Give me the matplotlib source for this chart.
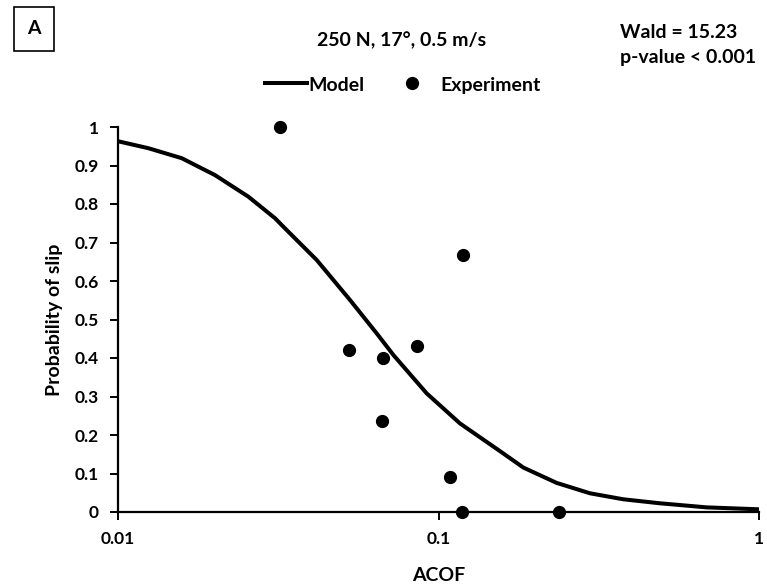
import numpy as np
import matplotlib
matplotlib.use("Agg")
import matplotlib.pyplot as plt
from matplotlib.ticker import FixedLocator, FixedFormatter, NullLocator

# experiment points
acof_exp = [0.032, 0.119, 0.0526, 0.0671, 0.0857, 0.0666, 0.1086, 0.1184, 0.2377]
slip_exp = [1.0, 0.667, 0.42, 0.40, 0.43, 0.236, 0.09, 0.0, 0.0]

# model curve, read point by point
acof_model = [0.01, 0.01243, 0.0158, 0.02008, 0.02551, 0.0309, 0.0328, 0.04169,
              0.05296, 0.06414, 0.07228, 0.09189, 0.1167, 0.1556, 0.1839,
              0.2338, 0.297, 0.3773, 0.4911, 0.687, 1.0]
slip_model = [0.963, 0.945, 0.919, 0.875, 0.819, 0.763, 0.741, 0.6545,
              0.5506, 0.464, 0.408, 0.308, 0.230, 0.158, 0.1155,
              0.0755, 0.0486, 0.033, 0.0226, 0.012, 0.007]

x_ticks = [0.01, 0.1, 1]
x_ticklabels = ["0.01", "0.1", "1"]
y_ticks = [0, 0.1, 0.2, 0.3, 0.4, 0.5, 0.6, 0.7, 0.8, 0.9, 1]
y_ticklabels = ["0", "0.1", "0.2", "0.3", "0.4", "0.5", "0.6", "0.7", "0.8", "0.9", "1"]

plt.rcParams['font.family'] = ['Lato', 'DejaVu Sans']
plt.rcParams['font.weight'] = 'bold'

W, H = 767, 588
fig = plt.figure(figsize=(W / 100, H / 100), dpi=100)
ax = fig.add_axes([118 / W, 1 - 512 / H, (759 - 118) / W, (512 - 127) / H])

ax.plot(acof_model, slip_model, color='black', lw=2.9, solid_capstyle='butt',
        solid_joinstyle='round', zorder=2)
ax.plot(acof_exp, slip_exp, 'o', color='black', ms=8.5, zorder=3, clip_on=False)

ax.set_xscale('log')
ax.set_xlim(0.01, 1)
ax.set_ylim(0, 1)
ax.xaxis.set_major_locator(FixedLocator(x_ticks))
ax.xaxis.set_major_formatter(FixedFormatter(x_ticklabels))
ax.xaxis.set_minor_locator(NullLocator())
ax.set_yticks(y_ticks)
ax.set_yticklabels(y_ticklabels)

for s in ['top', 'right']:
    ax.spines[s].set_visible(False)
for s in ['left', 'bottom']:
    ax.spines[s].set_linewidth(1.6)
ax.tick_params(axis='both', direction='out', length=6, width=1.4, labelsize=12.5, pad=8)

ax.set_xlabel("ACOF", fontsize=14, fontweight='bold', labelpad=14)
ax.set_ylabel("Probability of slip", fontsize=14, fontweight='bold', labelpad=8)

# header texts
fig.text(402 / W, 1 - 40 / H, "250 N, 17°, 0.5 m/s", ha='center', va='center', fontsize=14, fontweight='bold')
fig.text(620 / W, 1 - 32 / H, "Wald = 15.23", ha='left', va='center', fontsize=14, fontweight='bold')
fig.text(620 / W, 1 - 58 / H, "p-value < 0.001", ha='left', va='center', fontsize=14, fontweight='bold')
fig.text(34 / W, 1 - 29 / H, "A", ha='center', va='center', fontsize=14, fontweight='bold',
         bbox=dict(boxstyle='square,pad=0.7', fc='white', ec='black', lw=1.2))

# legend drawn by hand in figure coordinates
fig.lines.append(plt.Line2D([265 / W, 307 / W], [1 - 83 / H, 1 - 83 / H], color='black', lw=2.9,
                            transform=fig.transFigure))
fig.text(308 / W, 1 - 84 / H, "Model", ha='left', va='center_baseline', fontsize=14, fontweight='bold')
fig.lines.append(plt.Line2D([412 / W], [1 - 83 / H], marker='o', color='black', ms=8.5, ls='none',
                            transform=fig.transFigure))
fig.text(440 / W, 1 - 84 / H, "Experiment", ha='left', va='center_baseline', fontsize=14, fontweight='bold')

fig.savefig("out.png", dpi=100)
